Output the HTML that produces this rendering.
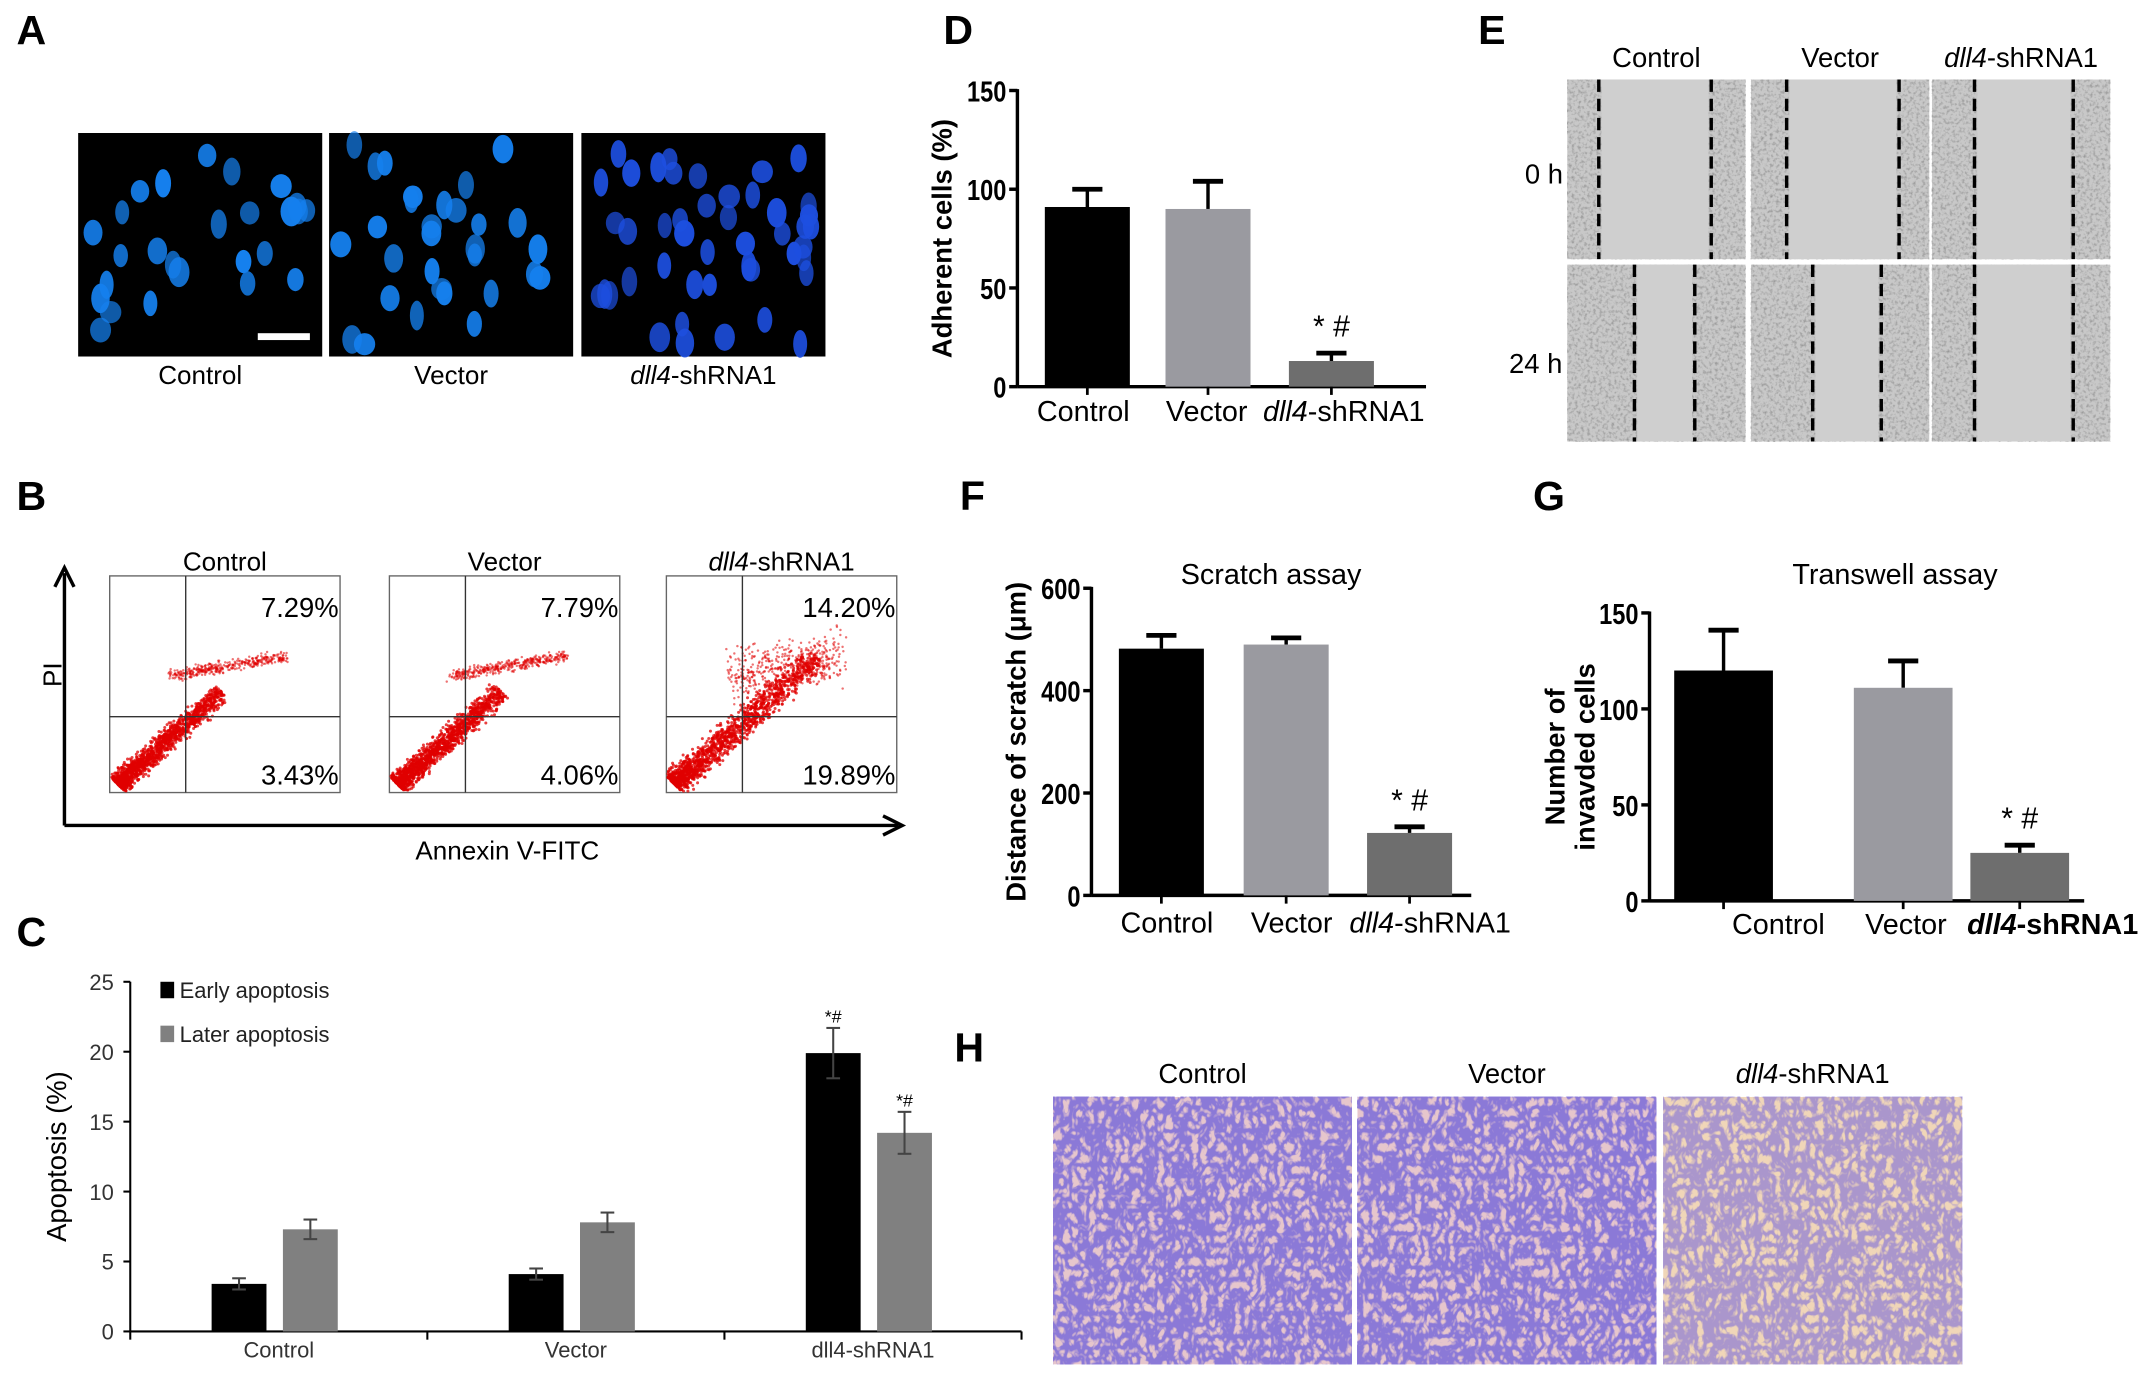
<!DOCTYPE html>
<html><head><meta charset="utf-8"><style>
html,body{margin:0;padding:0;background:#fff;}
svg{display:block;font-family:"Liberation Sans",Arial,sans-serif;}
</style></head><body>
<svg id="fig" width="2150" height="1376" viewBox="0 0 1568 1003.5" preserveAspectRatio="none" xmlns="http://www.w3.org/2000/svg">
<defs>
<filter id="grain" x="0" y="0" width="100%" height="100%"><feTurbulence type="fractalNoise" baseFrequency="0.45" numOctaves="2" seed="3"/><feColorMatrix type="matrix" values="0 0 0 0 0.3  0 0 0 0 0.3  0 0 0 0 0.3  0 0 0 -2.5 1.35"/></filter>
<filter id="tw" x="0" y="0" width="100%" height="100%"><feTurbulence type="turbulence" baseFrequency="0.16 0.12" numOctaves="2" seed="7"/><feColorMatrix type="matrix" values="0 0 0 0 0.2  0 0 0 0 0.15  0 0 0 0 0.7  0 0 0 -4 1.9"/></filter>
</defs>
<g id="layer"></g>
</svg>
<script>
// ---- Chart data ----
const dCats=["Control","Vector","dll4-shRNA1"];
const dVals=[91,90,13];
const dErr=[9,14,4];
const dTicks=[0,50,100,150];
const cCats=["Control","Vector","dll4-shRNA1"];
const cEarly=[3.4,4.1,19.9];
const cLater=[7.3,7.8,14.2];
const cEarlyErr=[0.4,0.4,1.8];
const cLaterErr=[0.7,0.7,1.5];
const cTicks=[0,5,10,15,20,25];
const fVals=[482,490,122];
const fErr=[26,13,12];
const fTicks=[0,200,400,600];
const gVals=[120,111,25];
const gErr=[21,14,4];
const gTicks=[0,50,100,150];
const bUpper=["7.29%","7.79%","14.20%"];
const bLower=["3.43%","4.06%","19.89%"];

const NS="http://www.w3.org/2000/svg";
const root=document.getElementById('layer');
function el(tag,attrs,parent,txt){const e=document.createElementNS(NS,tag);for(const k in attrs)e.setAttribute(k,attrs[k]);if(txt!==undefined)e.textContent=txt;(parent||root).appendChild(e);return e;}
function grp(name){const g=el('g',{});return g;}
let seed=12345;function rnd(){seed=(seed*16807)%2147483647;return seed/2147483647;}
function gauss(){return (rnd()+rnd()+rnd()-1.5)/1.5;}

[["A",22,30],["D",698,30],["E",1088,30],["B",22,370],["F",710,370],["G",1128,370],["C",22,688],["H",706,772]].forEach(p=>{
 const t=el('text',{x:p[1]-10,y:p[2]+2,'font-size':30,'font-weight':'bold'},root,p[0]);
 
 
});

// ---- Panel A ----
const gA=grp('panel-a');
[[57,"Control"],[240,"Vector"],[424,"dll4-shRNA1"]].forEach((im,i)=>{
 const g=el('g',{},gA);
 el('rect',{x:im[0],y:97,width:178,height:163,fill:'#000'},g);
 const n=i==2?45:(i==1?30:26);
 for(let k=0;k<n;k++){const cx=im[0]+8+rnd()*162,cy=97+8+rnd()*147;
  el('ellipse',{cx:cx,cy:cy,rx:5+rnd()*3,ry:8+rnd()*3,fill:i==2?'#1d4fe0':'#1580ee',opacity:0.7+rnd()*0.3},g);}
 if(i==0) el('rect',{x:188,y:243,width:38,height:5,fill:'#fff'},g);
 const t=el('text',{x:im[0]+89,y:280,'font-size':19,'text-anchor':'middle'},gA);
 
 if(i==2){el('tspan',{'font-style':'italic'},t,'dll4');el('tspan',{},t,'-shRNA1');}else t.textContent=im[1];
});

function barChart(name,opt){
 const g=grp(name);
 const ys=v=>opt.y0-(v/opt.max)*(opt.y0-opt.yTop);
 el('line',{x1:opt.ax,y1:opt.yTop-1,x2:opt.ax,y2:opt.y0,stroke:'#000','stroke-width':2.5},g);
 el('line',{x1:opt.ax,y1:opt.y0,x2:opt.xEnd,y2:opt.y0,stroke:'#000','stroke-width':2.5},g);
 opt.ticks.forEach(t=>{const y=ys(t);
  el('line',{x1:opt.ax-6,y1:y,x2:opt.ax,y2:y,stroke:'#000','stroke-width':2.5},g);
  const tx=el('text',{x:opt.ax-8,y:y+8,'font-size':21,'font-weight':'bold','text-anchor':'end',transform:`translate(${opt.ax-8},0) scale(0.82,1) translate(${-(opt.ax-8)},0)`},g,String(t));
  });
 opt.vals.forEach((v,i)=>{
  const x=opt.bx[i],w=opt.bw,yt=ys(v),ye=ys(v+opt.err[i]);
  el('line',{x1:x+w/2,y1:ye,x2:x+w/2,y2:yt,stroke:'#000','stroke-width':2.5},g);
  el('line',{x1:x+w/2-11,y1:ye,x2:x+w/2+11,y2:ye,stroke:'#000','stroke-width':3.5},g);
  const r=el('rect',{x:x,y:yt,width:w,height:opt.y0-yt,fill:opt.colors[i]},g);
  
  el('line',{x1:x+w/2,y1:opt.y0,x2:x+w/2,y2:opt.y0+6,stroke:'#000','stroke-width':2},g);
  const t=el('text',{x:opt.lx[i],y:opt.ly,'font-size':21,'text-anchor':'middle','font-weight':(opt.boldLast&&i==2)?'bold':'normal'},g);
  
  if(i==2){el('tspan',{'font-style':'italic'},t,'dll4');el('tspan',{},t,'-shRNA1');}else t.textContent=opt.cats[i];
 });
 const s=el('text',{x:opt.bx[2]+opt.bw/2,y:ys(opt.vals[2]+opt.err[2])-12,'font-size':22,'text-anchor':'middle'},g,'* #');
 
 const yl=el('text',{transform:`translate(${opt.ylx},${(opt.y0+opt.yTop)/2}) rotate(-90)`,'font-size':20,'font-weight':'bold','text-anchor':'middle'},g);
 
 if(opt.ylab2){el('tspan',{x:0,dy:-11},yl,opt.ylab);el('tspan',{x:0,dy:22},yl,opt.ylab2);}else yl.textContent=opt.ylab;
 if(opt.title){const tt=el('text',{x:opt.tx,y:opt.ty,'font-size':21,'text-anchor':'middle'},g,opt.title);
  }
}
barChart('panel-d-adherent-chart',{cats:dCats,vals:dVals,err:dErr,ticks:dTicks,max:150,ax:742,y0:282,yTop:66,xEnd:1040,
 bx:[762,850,940],bw:62,colors:['#000','#9a9aa0','#6e6e6e'],lx:[790,880,980],ly:307,ylx:694,ylab:'Adherent cells (%)'});
barChart('panel-f-scratch-chart',{cats:dCats,vals:fVals,err:fErr,ticks:fTicks,max:600,ax:796,y0:653,yTop:429,xEnd:1073,
 bx:[816,907,997],bw:62,colors:['#000','#9a9aa0','#6e6e6e'],lx:[851,942,1043],ly:680,ylx:748,ylab:'Distance of scratch (μm)',title:'Scratch assay',tx:927,ty:426});
barChart('panel-g-transwell-chart',{cats:dCats,vals:gVals,err:gErr,ticks:gTicks,max:150,ax:1203,y0:657,yTop:447,xEnd:1520,
 bx:[1221,1352,1437],bw:72,colors:['#000','#9a9aa0','#6e6e6e'],lx:[1297,1390,1497],ly:681,ylx:1152,ylab:'Number of',ylab2:'invavded cells',title:'Transwell assay',tx:1382,ty:426,boldLast:true});

// ---- Panel E ----
const gE=grp('panel-e-scratch-images');
const eCols=[[1143,"Control"],[1277,"Vector"],[1409,"dll4-shRNA1"]];
const eLines=[[[1166,1248],[1303,1385],[1440,1512]],[[1192,1236],[1322,1372],[1440,1512]]];
eCols.forEach((c,i)=>{
 const t=el('text',{x:c[0]+65,y:49,'font-size':20,'text-anchor':'middle'},gE);
 
 if(i==2){el('tspan',{'font-style':'italic'},t,'dll4');el('tspan',{},t,'-shRNA1');}else t.textContent=c[1];
 [[58,131],[193,129]].forEach((r,j)=>{
  const im=el('g',{},gE);
  el('rect',{x:c[0],y:r[0],width:130,height:r[1],fill:'#c8c8c8'},im);
  el('rect',{x:c[0],y:r[0],width:130,height:r[1],fill:'#000',filter:'url(#grain)',opacity:0.9},im);
  const L=eLines[j][i];
  el('rect',{x:L[0]+2,y:r[0],width:L[1]-L[0]-4,height:r[1],fill:'#cfcfcf'},im);
  L.forEach(x=>el('line',{x1:x,y1:r[0],x2:x,y2:r[0]+r[1],stroke:'#000','stroke-width':2.5,'stroke-dasharray':'9 5'},im));
 });
});
[["0 h",1126,134],["24 h",1120,272]].forEach(l=>{const t=el('text',{x:l[1],y:l[2],'font-size':20,'text-anchor':'middle'},gE,l[0]);
 });

// ---- Panel B ----
const gB=grp('panel-b-flow-cytometry');
el('line',{x1:47,y1:602,x2:47,y2:418,stroke:'#000','stroke-width':2.5},gB);
el('path',{d:'M40,428 L47,414 L54,428',fill:'none',stroke:'#000','stroke-width':2.5},gB);
el('line',{x1:47,y1:602,x2:655,y2:602,stroke:'#000','stroke-width':2.5},gB);
el('path',{d:'M644,595 L658,602 L644,609',fill:'none',stroke:'#000','stroke-width':2.5},gB);
let t=el('text',{transform:'translate(45,492) rotate(-90)','font-size':19,'text-anchor':'middle'},gB,'PI');
t=el('text',{x:370,y:627,'font-size':19,'text-anchor':'middle'},gB,'Annexin V-FITC');
[80,284,486].forEach((x0,i)=>{
 const w=168,y0=420,h=158;
 const p=el('g',{},gB);
 el('rect',{x:x0,y:y0,width:w,height:h,fill:'#fff',stroke:'#666','stroke-width':1},p);
 const qx=x0+w*0.33,qy=y0+h*0.65;
 const spread=i==2?0.62:0.45;
 for(let k=0;k<1500;k++){const u=Math.pow(rnd(),1.6)*spread;const off=gauss()*(i==2?14:11);
  const px=x0+6+u*w+off*0.7,py=y0+h-6-u*h*0.95+off*0.7;
  if(px>x0+1&&px<x0+w-2&&py>y0+2&&py<y0+h-1)el('circle',{cx:px,cy:py,r:1.1,fill:'#e00000',opacity:0.75},p);}
 for(let k=0;k<(i==2?450:380);k++){const u=rnd();
  const px=x0+w*0.27+u*w*0.5+gauss()*6,py=y0+h*0.46-u*14+gauss()*(i==2?26:6);
  if(py>y0+2&&px<x0+w-2)el('circle',{cx:px,cy:py,r:0.9,fill:'#e00000',opacity:0.55},p);}
 el('line',{x1:qx,y1:y0,x2:qx,y2:y0+h,stroke:'#333','stroke-width':1},p);
 el('line',{x1:x0,y1:qy,x2:x0+w,y2:qy,stroke:'#333','stroke-width':1},p);
 let a=el('text',{x:x0+w-1,y:y0+30,'font-size':20,'text-anchor':'end'},p,bUpper[i]);
 a=el('text',{x:x0+w-1,y:y0+h-6,'font-size':20,'text-anchor':'end'},p,bLower[i]);
 const lt=el('text',{x:x0+w/2,y:416,'font-size':19,'text-anchor':'middle'},gB);
 if(i==2){el('tspan',{'font-style':'italic'},lt,'dll4');el('tspan',{},lt,'-shRNA1');}else lt.textContent=["Control","Vector"][i];
});

// ---- Panel C ----
(function(){
 const g=grp('panel-c-apoptosis-chart');
 const ax=95,y0=971,yTop=716,xEnd=745,max=25;
 const ys=v=>y0-(v/max)*(y0-yTop);
 const grpW=(xEnd-ax)/cCats.length, bw=40;
 el('line',{x1:ax,y1:yTop,x2:ax,y2:y0,stroke:'#000','stroke-width':1.5},g);
 el('line',{x1:ax,y1:y0,x2:xEnd,y2:y0,stroke:'#000','stroke-width':1.5},g);
 cTicks.forEach(tv=>{const y=ys(tv);el('line',{x1:ax-5,y1:y,x2:ax,y2:y,stroke:'#000','stroke-width':1.5},g);
  const tx=el('text',{x:ax-12,y:y+6,'font-size':16,'text-anchor':'end','fill':'#333'},g,String(tv));});
 for(let i=0;i<=cCats.length;i++)el('line',{x1:ax+i*grpW,y1:y0,x2:ax+i*grpW,y2:y0+6,stroke:'#000','stroke-width':1.5},g);
 cCats.forEach((c,i)=>{
  const cx=ax+grpW*(i+0.5);
  [[cEarly,cEarlyErr,'#000',cx-49],[cLater,cLaterErr,'#808080',cx+3]].forEach((s,j)=>{
   const v=s[0][i],e=s[1][i],x=s[3];
   const r=el('rect',{x:x,y:ys(v),width:bw,height:y0-ys(v),fill:s[2]},g);
   
   el('line',{x1:x+bw/2,y1:ys(v+e),x2:x+bw/2,y2:ys(v-e),stroke:'#444','stroke-width':1.5},g);
   [v+e,v-e].forEach(q=>el('line',{x1:x+bw/2-5,y1:ys(q),x2:x+bw/2+5,y2:ys(q),stroke:'#444','stroke-width':1.5},g));
   if(i==2){const m=el('text',{x:x+bw/2,y:ys(v+e)-4,'font-size':13,'text-anchor':'middle'},g,'*#');}
  });
  const tl=el('text',{x:cx,y:990,'font-size':16,'text-anchor':'middle','fill':'#333'},g,c);
 });
 let yl=el('text',{transform:`translate(48,${(y0+yTop)/2}) rotate(-90)`,'font-size':20,'text-anchor':'middle'},g,'Apoptosis (%)');
 [['Early apoptosis','#000',722],['Later apoptosis','#808080',754]].forEach(l=>{
  const lg=el('g',{},g);
  el('rect',{x:117,y:l[2]-6,width:10,height:12,fill:l[1]},lg);
  el('text',{x:131,y:l[2]+6,'font-size':16,fill:'#222'},lg,l[0]);
 });
})();

// ---- Panel H ----
const gH=grp('panel-h-transwell-images');
[[768,"Control"],[990,"Vector"],[1213,"dll4-shRNA1"]].forEach((c,i)=>{
 const im=el('g',{},gH);
 el('rect',{x:c[0],y:800,width:218,height:195,fill:i==2?'#f0d6b8':'#e6c6cc'},im);
 el('rect',{x:c[0],y:800,width:218,height:195,fill:'#000',filter:'url(#tw)',opacity:i==2?0.6:0.85},im);
 const t=el('text',{x:c[0]+109,y:790,'font-size':20,'text-anchor':'middle'},gH);
 if(i==2){el('tspan',{'font-style':'italic'},t,'dll4');el('tspan',{},t,'-shRNA1');}else t.textContent=c[1];
});
</script>
</body></html>
